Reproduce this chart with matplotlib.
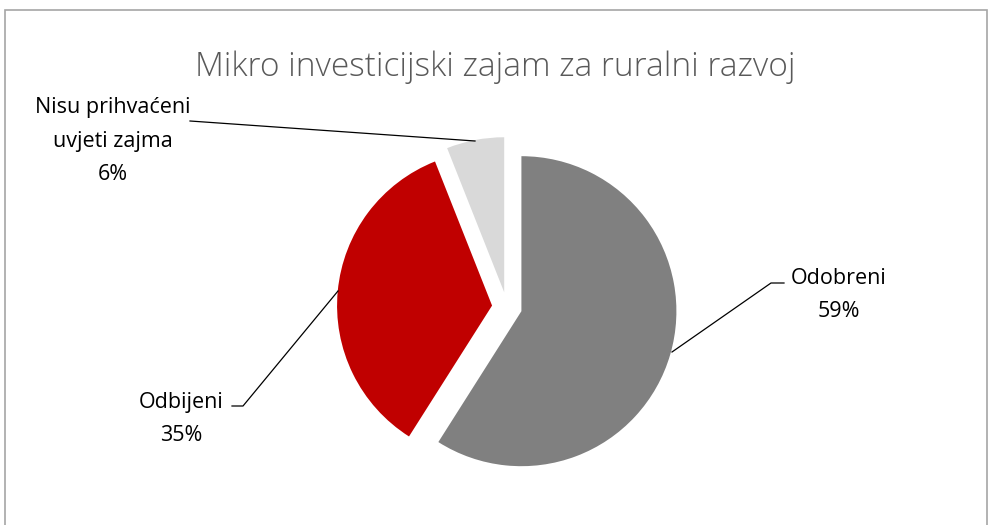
import matplotlib.pyplot as plt
from matplotlib.patches import Rectangle

categories = ["Odobreni", "Odbijeni", "Nisu prihvaćeni\nuvjeti zajma"]
shares = [59, 35, 6]
colors = ["#808080", "#C00000", "#D9D9D9"]
title = "Mikro investicijski zajam za ruralni razvoj"

W, H = 990, 525
fig = plt.figure(figsize=(W / 100, H / 100), dpi=100)
ax = fig.add_axes([0, 0, 1, 1])

# chart border (cropped at the bottom in the reference)
fig.patches.append(Rectangle((5 / W, -0.1), 982 / W, 1.1 - 10 / H, transform=fig.transFigure,
                             fill=False, edgecolor="#A6A6A6", linewidth=1.2))

# axes in pixel units, pie offset given in the same units
radius = 155
ax.pie(shares, colors=colors, startangle=90, counterclock=False,
       radius=radius, center=(507, H - 307),
       explode=[15] * len(shares), frame=True)
ax.set_xlim(0, W)
ax.set_ylim(0, H)
ax.set_aspect("equal")
ax.axis("off")

font = "Open Sans"
ax.text(495, H - 67, title, ha="center", va="center", fontsize=24,
        color="#595959", family=font, fontweight="light")

labels = [f"{c}\n{v}%" for c, v in zip(categories, shares)]
# label anchor (text centre) and leader line points, in pixel coordinates
label_pos = [(839, 295), (181, 419), (113, 141)]
leaders = [[(672, 352), (771, 283), (784, 283)],
           [(338, 291), (243, 406), (232, 406)],
           [(475, 141), (190, 121)]]
for lab, (lx, ly), pts in zip(labels, label_pos, leaders):
    ax.text(lx, H - ly, lab, ha="center", va="center", fontsize=15.5,
            family=font, color="black", linespacing=1.75)
    ax.plot([p[0] for p in pts], [H - p[1] for p in pts], color="black", lw=0.9)

fig.savefig("out.png", dpi=100)
